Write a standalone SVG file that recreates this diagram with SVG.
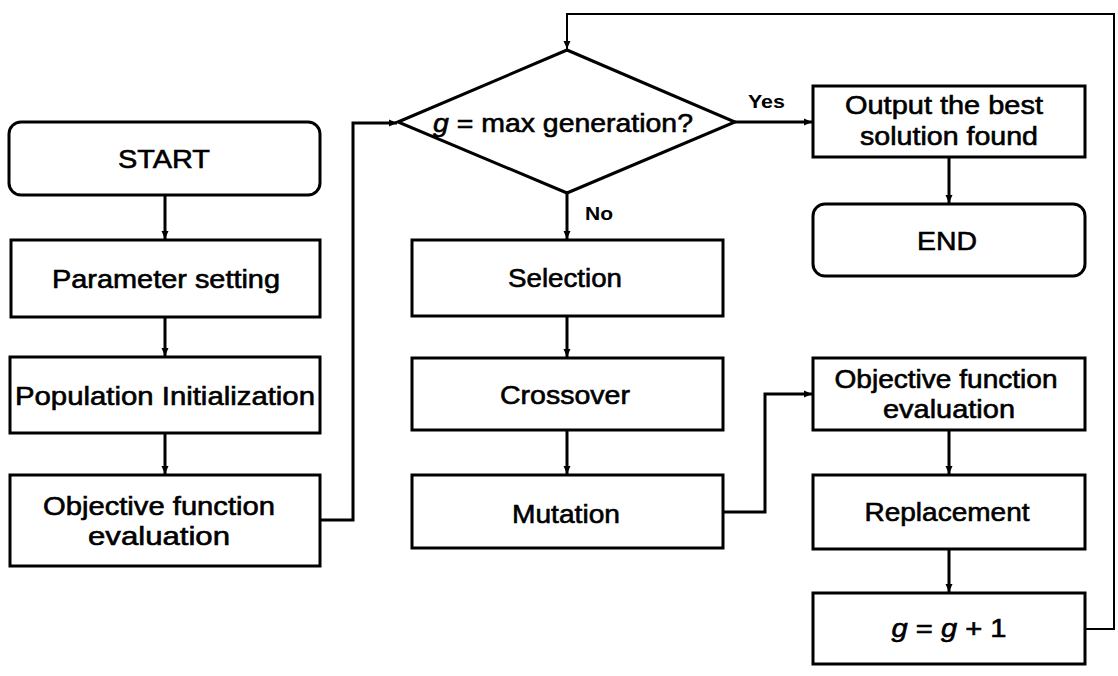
<svg xmlns="http://www.w3.org/2000/svg" width="1118" height="676" viewBox="0 0 1118 676">
<defs>
<style>
.box{fill:#fff;stroke:#000;stroke-width:3}
.t{font-family:"Liberation Sans",Arial,sans-serif;font-size:26px;fill:#000;stroke:#000;stroke-width:0.6;text-anchor:middle}
.s{font-family:"Liberation Sans",Arial,sans-serif;font-size:18px;font-weight:bold;fill:#000}
.c{fill:none;stroke:#000;stroke-width:3}
.thin{fill:none;stroke:#000;stroke-width:2}
</style>
<marker id="ah" markerWidth="10" markerHeight="10" refX="9" refY="5" orient="auto" markerUnits="userSpaceOnUse">
<path d="M1,1.5 L9,5 L1,8.5 Z" fill="#000"/>
</marker>
</defs>
<rect width="1118" height="676" fill="#fff"/>
<g id="connectors">
<path class="c" d="M165,195 V239" marker-end="url(#ah)"/>
<path class="c" d="M165,317 V356" marker-end="url(#ah)"/>
<path class="c" d="M165,433 V474" marker-end="url(#ah)"/>
<path class="c" d="M320,520 H353 V123 H397" marker-end="url(#ah)"/>
<path class="c" d="M567,193 V239" marker-end="url(#ah)"/>
<path class="c" d="M567,316 V357" marker-end="url(#ah)"/>
<path class="c" d="M567,430 V474" marker-end="url(#ah)"/>
<path class="c" d="M723,512 H765 V394 H812" marker-end="url(#ah)"/>
<path class="c" d="M735,122 H812" marker-end="url(#ah)"/>
<path class="c" d="M949,157 V203" marker-end="url(#ah)"/>
<path class="c" d="M949,430 V474" marker-end="url(#ah)"/>
<path class="c" d="M949,549 V592" marker-end="url(#ah)"/>
<path class="thin" d="M1085,629 H1114 V14 H567 V49" marker-end="url(#ah)"/>
<text class="s" x="748" y="108" textLength="37" lengthAdjust="spacingAndGlyphs">Yes</text>
<text class="s" x="585" y="220" textLength="28" lengthAdjust="spacingAndGlyphs">No</text>
</g>
<g id="start">
<rect class="box" x="9" y="122" width="311" height="73" rx="12"/>
<text class="t" x="164" y="168" textLength="92" lengthAdjust="spacingAndGlyphs">START</text>
</g>
<g id="param">
<rect class="box" x="11" y="240" width="309" height="77"/>
<text class="t" x="166" y="288" textLength="228" lengthAdjust="spacingAndGlyphs">Parameter setting</text>
</g>
<g id="popinit">
<rect class="box" x="10" y="357" width="310" height="76"/>
<text class="t" x="165" y="405" textLength="300" lengthAdjust="spacingAndGlyphs">Population Initialization</text>
</g>
<g id="objeval1">
<rect class="box" x="10" y="475" width="310" height="91"/>
<text class="t" x="159" y="515" textLength="232" lengthAdjust="spacingAndGlyphs">Objective function</text>
<text class="t" x="159" y="545" textLength="142" lengthAdjust="spacingAndGlyphs">evaluation</text>
</g>
<g id="decision">
<polygon class="box" points="398,122 567,50 735,122 567,193"/>
<text class="t" x="563" y="132" textLength="260" lengthAdjust="spacingAndGlyphs"><tspan font-style="italic">g</tspan> = max generation?</text>
</g>
<g id="selection">
<rect class="box" x="412" y="240" width="311" height="76"/>
<text class="t" x="565" y="287" textLength="114" lengthAdjust="spacingAndGlyphs">Selection</text>
</g>
<g id="crossover">
<rect class="box" x="412" y="358" width="311" height="72"/>
<text class="t" x="565" y="404" textLength="130" lengthAdjust="spacingAndGlyphs">Crossover</text>
</g>
<g id="mutation">
<rect class="box" x="412" y="475" width="311" height="73"/>
<text class="t" x="566" y="523" textLength="108" lengthAdjust="spacingAndGlyphs">Mutation</text>
</g>
<g id="output">
<rect class="box" x="813" y="86" width="272" height="71"/>
<text class="t" x="944" y="114" textLength="198" lengthAdjust="spacingAndGlyphs">Output the best</text>
<text class="t" x="949" y="145" textLength="178" lengthAdjust="spacingAndGlyphs">solution found</text>
</g>
<g id="end">
<rect class="box" x="813" y="204" width="272" height="72" rx="12"/>
<text class="t" x="947" y="250" textLength="60" lengthAdjust="spacingAndGlyphs">END</text>
</g>
<g id="objeval2">
<rect class="box" x="813" y="358" width="272" height="72"/>
<text class="t" x="946" y="388" textLength="223" lengthAdjust="spacingAndGlyphs">Objective function</text>
<text class="t" x="949" y="418" textLength="132" lengthAdjust="spacingAndGlyphs">evaluation</text>
</g>
<g id="replacement">
<rect class="box" x="813" y="475" width="272" height="74"/>
<text class="t" x="947" y="521" textLength="165" lengthAdjust="spacingAndGlyphs">Replacement</text>
</g>
<g id="increment">
<rect class="box" x="813" y="593" width="272" height="71"/>
<text class="t" x="949" y="637" textLength="115" lengthAdjust="spacingAndGlyphs"><tspan font-style="italic">g</tspan> = <tspan font-style="italic">g</tspan> + 1</text>
</g>
</svg>
